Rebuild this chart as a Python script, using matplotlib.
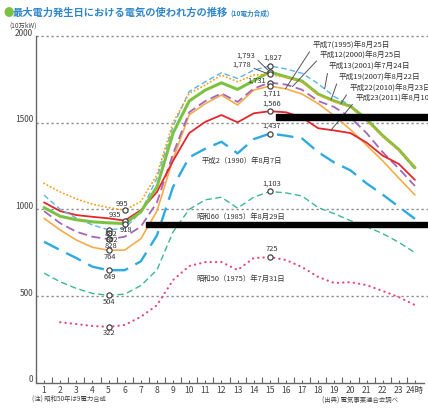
import numpy as np
import matplotlib
matplotlib.use("Agg")
import matplotlib.pyplot as plt
from matplotlib.patches import Rectangle

plt.rcParams['font.family'] = ['Noto Sans CJK JP', 'DejaVu Sans']

# ---- data (unit: 10万kW) ----
hours = list(range(1, 25))
hour_labels = [str(h) for h in range(1, 24)] + ['24時']

load_1975 = [np.nan, 349, 338, 327, 322, 333, 380, 447, 592, 673, 696, 696,
             650, 719, 725, 708, 667, 610, 575, 580, 563, 529, 494, 448]
load_1985 = [632, 582, 544, 515, 504, 511, 560, 650, 870, 1000, 1055, 1070,
             1007, 1070, 1103, 1095, 1077, 1010, 975, 935, 900, 860, 810, 750]
load_1990 = [813, 765, 719, 669, 649, 649, 700, 850, 1130, 1300, 1350, 1390,
             1323, 1405, 1437, 1425, 1409, 1330, 1270, 1225, 1150, 1085, 1015, 945]
load_1995 = [948, 881, 823, 781, 764, 765, 830, 990, 1290, 1545, 1610, 1659,
             1602, 1688, 1711, 1695, 1665, 1610, 1540, 1460, 1370, 1280, 1180, 1083]
load_2000 = [990, 920, 871, 842, 828, 842, 900, 1040, 1320, 1560, 1625, 1669,
             1620, 1697, 1731, 1720, 1690, 1625, 1590, 1530, 1440, 1330, 1235, 1135]
load_2001 = [1082, 1000, 950, 910, 882, 890, 985, 1180, 1480, 1680, 1736, 1788,
             1755, 1803, 1827, 1810, 1785, 1725, 1650, 1600, 1520, 1425, 1340, 1230]
load_2007 = [1010, 960, 940, 928, 922, 918, 985, 1130, 1440, 1625, 1688, 1730,
             1692, 1742, 1793, 1765, 1740, 1665, 1625, 1595, 1520, 1425, 1345, 1240]
load_2010 = [1150, 1100, 1060, 1030, 1010, 995, 1045, 1200, 1500, 1669, 1717, 1775,
             1736, 1775, 1778, 1760, 1735, 1660, 1620, 1590, 1510, 1420, 1340, 1245]
load_2011 = [1040, 990, 967, 957, 948, 935, 995, 1100, 1280, 1440, 1505, 1544,
             1502, 1554, 1566, 1560, 1530, 1468, 1455, 1440, 1385, 1310, 1262, 1170]

# annotated points (hour, value)
point_hours = [15, 15, 15, 15, 15, 15, 15, 15, 15, 6, 6, 6, 5, 5, 5, 5, 5, 5, 5]
point_values = [1827, 1793, 1778, 1731, 1711, 1566, 1437, 1103, 725,
                995, 935, 918, 882, 862, 828, 764, 649, 504, 322]

yticks = [0, 500, 1000, 1500, 2000]

W, H = 428, 411
fig = plt.figure(figsize=(W / 100, H / 100), dpi=100)
fig.patch.set_facecolor('white')

def fx(px):
    return px / W

def fy(py):
    return 1 - py / H

ax = fig.add_axes([fx(36), fy(382.7), fx(428) - fx(36), fy(36) - fy(382.7)])
ax.set_xlim(0.567, 24.81)
ax.set_ylim(0, 2000)
ax.set_facecolor('none')

for s in ['top', 'right']:
    ax.spines[s].set_visible(False)
for s in ['left', 'bottom']:
    ax.spines[s].set_color('#666666')
    ax.spines[s].set_linewidth(1.0)
ax.spines['bottom'].set_bounds(0.567, 24.55)

# dotted reference lines
for v in [500, 1000, 1500, 2000]:
    ax.axhline(v, color='#8a8a8a', lw=1.0, dashes=(1.6, 2.0), clip_on=False, zorder=1)

# x axis
ax.set_xticks(hours)
ax.set_xticklabels(hour_labels, fontsize=6.2, color='#444444')
ax.set_xticks([h + 0.5 for h in range(0, 24)], minor=True)
ax.tick_params(axis='x', which='major', direction='in', length=2.5, width=0.8,
               color='#666666', pad=2.5)
ax.tick_params(axis='x', which='minor', direction='in', length=4.5, width=0.8,
               color='#666666')
ax.set_yticks([])
for v in yticks:
    ax.annotate(str(v), xy=(0.567, v), xytext=(-4, 3), textcoords='offset pixels',
                ha='right', va='center', fontsize=6.0, color='#444444',
                annotation_clip=False)

def line(vals, color, lw, dashes=None, z=3, cap='butt'):
    ln, = ax.plot(hours, vals, color=color, lw=lw, zorder=z,
                  solid_capstyle='round', dash_capstyle=cap)
    if dashes is not None:
        ln.set_dashes(dashes)
    return ln

line(load_1975, '#e5487f', 1.6, dashes=(0.1, 2.3), cap='round', z=3)
line(load_1985, '#3cba8c', 1.0, dashes=(4.5, 2.5), z=3)
line(load_1990, '#2eaae2', 1.7, dashes=(7, 3.5), z=3)
line(load_1995, '#f4ac4a', 1.2, z=4)
line(load_2000, '#a566b8', 1.3, dashes=(5, 2.5), z=4)
line(load_2011, '#e5262d', 1.3, z=5)
line(load_2001, '#5ab4e6', 1.0, dashes=(4, 2.2), z=5)
line(load_2007, '#7cc242', 2.2, z=6)
line(load_2010, '#f3a521', 1.4, dashes=(0.1, 1.8), cap='round', z=7)

ax.scatter(point_hours, point_values, s=14, facecolor='white', edgecolor='#444444',
           linewidth=0.9, zorder=9)

# value labels: offsets in pixels (dx, dy) from each point
label_offsets = [(3, 8), (-24, 16.5), (-28, 9.5), (-13, 1.5), (2, -7.5), (2, 7.5),
                 (2, 7.5), (2, 8), (2, 8), (-3, 6), (-10, 5.6), (1, -6.5),
                 (2, -4.5), (3, -6.5), (2, -6.6), (1, -6.8), (1, -6.8), (1, -6.2),
                 (1, -6.6)]
leader_points = {1793, 1778}
for h, v, (dx, dy) in zip(point_hours, point_values, label_offsets):
    kw = {}
    if v in leader_points:
        kw['arrowprops'] = dict(arrowstyle='-', color='#555555', lw=0.7,
                                shrinkA=0, shrinkB=2, relpos=(1.0, 0.2))
    ax.annotate(f"{v:,}", xy=(h, v), xytext=(dx, dy), textcoords='offset pixels',
                ha='center', va='center', fontsize=5.4, color='#333333', zorder=10, **kw)

# dated labels with leaders
def px_to_data(px, py):
    return ((px - 43) / 16.17 + 1, (382.7 - py) / 0.1734)

leaders = [
    ('平成7(1995)年8月25日', load_1995, 15.97, (312, 45)),
    ('平成12(2000)年8月25日', load_2000, 16.4, (319, 55.5)),
    ('平成13(2001)年7月24日', load_2001, 18.4, (328, 66.5)),
    ('平成19(2007)年8月22日', load_2007, 18.8, (338, 77)),
    ('平成22(2010)年8月23日', load_2010, 19.4, (349, 88)),
    ('平成23(2011)年8月10日', load_2011, 18.8, (355, 98.5)),
]
for text, vals, h, (px, py) in leaders:
    v = np.interp(h, hours, vals)
    ax.annotate(text, xy=(h, v), xytext=px_to_data(px, py), textcoords='data',
                ha='left', va='center', fontsize=5.5, color='#333333',
                annotation_clip=False, zorder=10,
                arrowprops=dict(arrowstyle='-', color='#555555', lw=0.7,
                                shrinkA=0, shrinkB=0, relpos=(0.0, 0.2)))

for text, (px, py) in [('平成2（1990）年8月7日', (201, 160.5)),
                       ('昭和60（1985）年8月29日', (196, 217)),
                       ('昭和50（1975）年7月31日', (196, 278.5))]:
    ax.text(*px_to_data(px, py), text, ha='left', va='center', fontsize=5.3,
            color='#333333', zorder=10)

# title and notes
fig.text(fx(4), fy(13), '●', color='#7cc242', fontsize=7.5, va='center', ha='left')
fig.text(fx(13), fy(13), '最大電力発生日における電気の使われ方の推移', color='#2f86c8',
         fontsize=7.4, fontweight='bold', va='center', ha='left')
fig.text(fx(230), fy(13.5), '(10電力合成)', color='#2f86c8', fontsize=4.8,
         fontweight='bold', va='center', ha='left')
fig.text(fx(9), fy(25.5), '(10万kW)', color='#444444', fontsize=4.6, va='center', ha='left')
fig.text(fx(32), fy(400), '(注) 昭和50年は9電力合成', color='#444444', fontsize=4.6,
         va='center', ha='left')
fig.text(fx(322), fy(401), '(出典) 電気事業連合会調べ', color='#444444', fontsize=4.6,
         va='center', ha='left')

# solid black bands
for x0, y0, y1 in [(276, 114.5, 119.5), (146, 221.7, 226.7)]:
    fig.add_artist(Rectangle((fx(x0), fy(y1)), fx(428) - fx(x0) + 0.01, fy(y0) - fy(y1),
                             transform=fig.transFigure, color='black', zorder=20))

fig.savefig('out.png', dpi=100, facecolor='white')
